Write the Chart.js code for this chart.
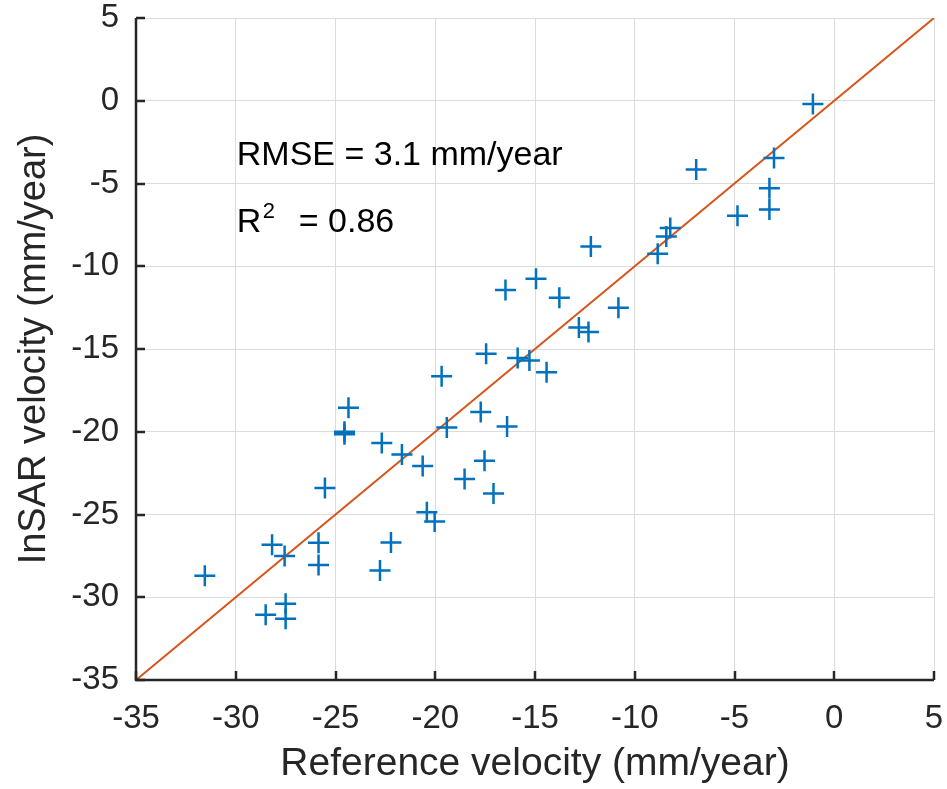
<!DOCTYPE html>
<html>
<head>
<meta charset="utf-8">
<script src="https://cdn.jsdelivr.net/npm/chart.js@4.4.1/dist/chart.umd.min.js"></script>
<style>
html,body{margin:0;padding:0;background:#fff;}
#wrap{width:947px;height:789px;}
</style>
</head>
<body>
<div id="wrap"><canvas id="c" width="947" height="789"></canvas></div>
<script>
const referenceVelocity = [-1.07,-3.02,-6.92,-3.25,-3.25,-4.85,-8.22,-8.42,-8.85,-12.2,-14.95,-16.48,-13.78,-10.82,-12.8,-12.32,-17.45,-15.87,-15.28,-14.42,-19.68,-24.35,-17.72,-24.55,-24.55,-19.42,-16.4,-22.68,-21.67,-17.53,-20.63,-18.53,-17.08,-25.53,-20.42,-20.03,-28.18,-27.55,-25.85,-22.22,-25.85,-22.77,-31.55,-28.5,-27.5,-27.5];
const insarVelocity = [-0.2,-3.46,-4.15,-5.28,-6.57,-6.95,-7.69,-8.2,-9.24,-8.8,-10.76,-11.44,-11.9,-12.5,-13.7,-13.98,-15.29,-15.55,-15.69,-16.41,-16.64,-18.55,-18.8,-20.0,-20.15,-19.74,-19.68,-20.68,-21.37,-21.75,-22.07,-22.86,-23.73,-23.4,-24.87,-25.42,-26.83,-27.5,-26.7,-26.69,-28.05,-28.38,-28.7,-31.06,-30.4,-31.3];
const lineX = [-35, 5];
const lineY = [-35, 5];
const tickValues = [-35,-30,-25,-20,-15,-10,-5,0,5];
const annotationRMSE = "RMSE = 3.1 mm/year";
const annotationR2 = "= 0.86";

const FONT = "'Liberation Sans', Arial, Helvetica, sans-serif";
const textColor = '#262626';

const inwardTicks = {
  id: 'inwardTicks',
  afterDatasetsDraw(chart) {
    const ctx = chart.ctx, xs = chart.scales.x, ys = chart.scales.y;
    const a = chart.chartArea;
    ctx.save();
    ctx.strokeStyle = textColor;
    ctx.lineWidth = 2.5;
    ctx.beginPath();
    tickValues.forEach(v => {
      const px = Math.round(xs.getPixelForValue(v));
      ctx.moveTo(px, a.bottom); ctx.lineTo(px, a.bottom - 9);
      const py = Math.round(ys.getPixelForValue(v));
      ctx.moveTo(a.left, py); ctx.lineTo(a.left + 9, py);
    });
    ctx.stroke();
    ctx.beginPath();
    ctx.moveTo(a.left, a.top); ctx.lineTo(a.left, a.bottom); ctx.lineTo(a.right, a.bottom);
    ctx.stroke();
    ctx.fillStyle = '#000';
    ctx.textBaseline = 'alphabetic';
    ctx.textAlign = 'left';
    ctx.font = '34px ' + FONT;
    const tx = xs.getPixelForValue(-30) + 1;
    ctx.fillText(annotationRMSE, tx, 165);
    ctx.fillText('R', tx, 232);
    ctx.font = '22px ' + FONT;
    ctx.fillText('2', tx + 26, 218);
    ctx.font = '34px ' + FONT;
    ctx.fillText(annotationR2, tx + 62, 232);
    ctx.restore();
  }
};

new Chart(document.getElementById('c'), {
  type: 'scatter',
  data: {
    datasets: [
      {
        type: 'line',
        data: lineX.map((x, i) => ({x, y: lineY[i]})),
        borderColor: '#D95319',
        borderWidth: 2,
        pointRadius: 0,
        fill: false,
        order: 2
      },
      {
        data: referenceVelocity.map((x, i) => ({x, y: insarVelocity[i]})),
        pointStyle: 'cross',
        pointRadius: 10.5,
        pointBorderWidth: 2.5,
        borderColor: '#0072BD',
        backgroundColor: '#0072BD',
        order: 1
      }
    ]
  },
  options: {
    responsive: false,
    animation: false,
    layout: { padding: { top: 18, right: 12, left: 0, bottom: 0 } },
    plugins: { legend: { display: false }, tooltip: { enabled: false } },
    scales: {
      x: {
        type: 'linear', min: -35, max: 5,
        afterBuildTicks: s => { s.ticks = tickValues.map(v => ({value: v})); },
        afterFit: s => { s.height = 109; s.paddingLeft = 0; s.paddingRight = 0; },
        grid: { color: '#dcdcdc', lineWidth: 1, drawTicks: false },
        border: { display: false },
        ticks: { color: textColor, font: { family: FONT, size: 33 }, padding: 19, maxRotation: 0 },
        title: { display: true, text: 'Reference velocity (mm/year)', color: textColor, font: { family: FONT, size: 39 }, padding: { top: 0, bottom: 1 } }
      },
      y: {
        type: 'linear', min: -35, max: 5,
        afterBuildTicks: s => { s.ticks = tickValues.map(v => ({value: v})); },
        afterFit: s => { s.width = 136; s.paddingTop = 0; s.paddingBottom = 0; },
        grid: { color: '#dcdcdc', lineWidth: 1, drawTicks: false },
        border: { display: false },
        ticks: { color: textColor, font: { family: FONT, size: 33 }, padding: 17 },
        title: { display: true, text: 'InSAR velocity (mm/year)', color: textColor, font: { family: FONT, size: 38 }, padding: { top: 12, bottom: 0 } }
      }
    }
  },
  plugins: [inwardTicks]
});
</script>
</body>
</html>
